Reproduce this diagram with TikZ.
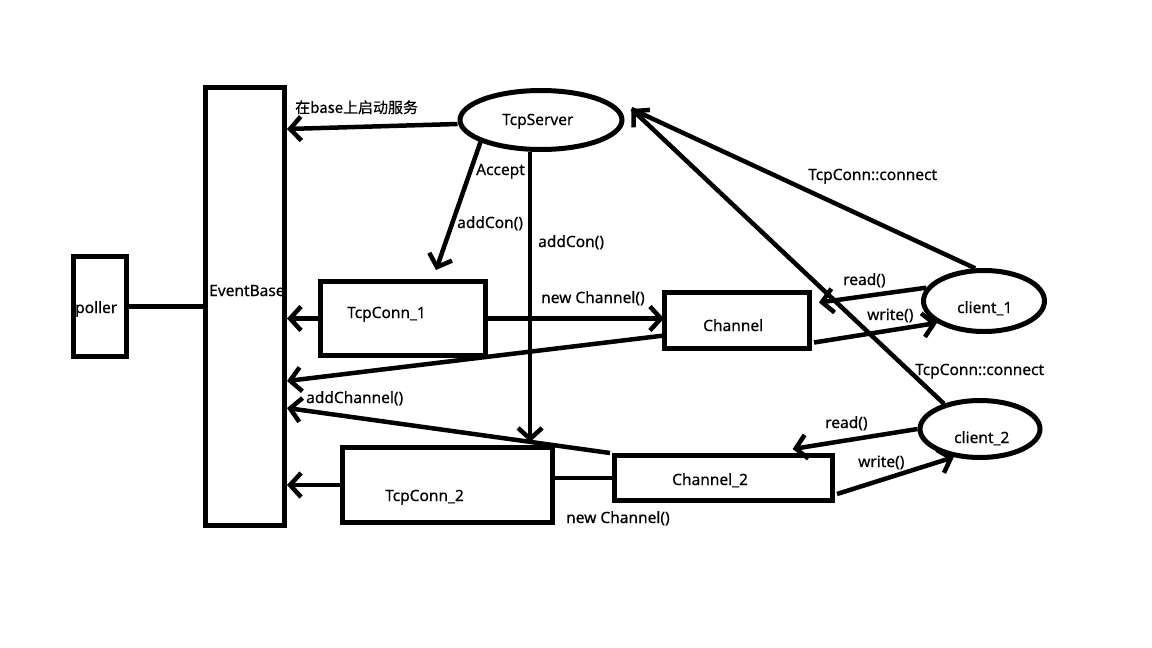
\documentclass[tikz,border=0pt]{standalone}
\usepackage{fontspec}
\setmainfont[FakeBold=0.5]{Noto Sans}
\newfontfamily\cjk[FakeBold=0.5]{Noto Sans CJK SC}
\usetikzlibrary{arrows.meta,shapes.geometric,calc}

\begin{document}
\begin{tikzpicture}[x=1pt,y=-1pt,
  box/.style={draw,line width=5pt,rectangle,inner sep=0pt},
  oval/.style={draw,line width=5pt,ellipse,inner sep=0pt},
  lbl/.style={anchor=base west,inner sep=0pt,font=\fontsize{15.5}{17}\selectfont},
  link/.style={line width=4.5pt},
  flow/.style={link,-{Straight Barb[length=11pt,width=24pt]}}]

\fill[white] (0,0) rectangle (1152,648);
\useasboundingbox (0,0) rectangle (1152,648);

% boxes and ovals
\node[box,minimum width=53pt,minimum height=100pt] (poller) at (100,306.5) {};
\node[box,minimum width=79pt,minimum height=438pt] (eb) at (245,306.5) {};
\node[box,minimum width=165pt,minimum height=74pt] (tc1) at (403,318.5) {};
\node[box,minimum width=210pt,minimum height=75pt] (tc2) at (447.5,485) {};
\node[box,minimum width=145pt,minimum height=56pt] (ch) at (737,320.5) {};
\node[box,minimum width=218pt,minimum height=45pt] (ch2) at (723.5,478) {};
\node[oval,minimum width=162pt,minimum height=59pt] (srv) at (541,120) {};
\node[oval,minimum width=121pt,minimum height=61pt] (c1) at (984,301) {};
\node[oval,minimum width=120pt,minimum height=57pt] (c2) at (980,429) {};

% texts inside the shapes (placed by baseline)
\node[lbl] (tpoller) at (75,313) {poller};
\node[lbl] (teb) at (209,296) {EventBase};
\node[lbl] (ttc1) at (347,318) {TcpConn\_1};
\node[lbl] (ttc2) at (385,501) {TcpConn\_2};
\node[lbl] (tch) at (703,331) {Channel};
\node[lbl] (tch2) at (672,485) {Channel\_2};
\node[lbl] (tsrv) at (502,125) {TcpServer};
\node[lbl] (tcli1) at (957,313) {client\_1};
\node[lbl] (tcli2) at (954,443) {client\_2};

% poller to EventBase
\draw[link] (poller.east) -- (poller.east -| eb.west);

% TcpServer starts the service on the base
\draw[flow] (srv.west |- 0,124) -- (eb.east |- 0,129);
\node[lbl,font=\cjk\fontsize{15}{17}\selectfont] (lstart) at (295,113) {在base上启动服务};

% TcpServer accepts and adds connections
\draw[flow] (srv.200) -- ([shift={(33,-9)}]tc1.north);
\node[lbl] (laccept) at (476,175) {Accept};
\node[lbl] (ladd1) at (457,228) {addCon()};
\draw[flow] (srv.251) -- ([shift={(0,-3)}]srv.251 |- tc2.north);
\node[lbl] (ladd2) at (538,247) {addCon()};

% connections to EventBase
\draw[flow] (tc1.west) -- (tc1.west -| eb.east);
\draw[flow] (tc2.west) -- (tc2.west -| eb.east);

% channels
\draw[flow] (tc1.east) -- ([xshift=2]tc1.east -| ch.west);
\node[lbl] (lnew1) at (541,303) {new Channel()};
\draw[link] (ch2.west -| tc2.east) -- (ch2.west);
\node[lbl] (lnew2) at (566,523) {new Channel()};

\draw[flow] ($(ch.west)!0.5!(ch.south west)$) -- (eb.east |- 0,381);
\draw[flow] ([xshift=-2]ch2.north west) -- (eb.east |- 0,408);
\node[lbl] (laddch) at (306,403) {addChannel()};

% clients and channels
\draw[flow] (c1.167) -- ([shift={(7,-18)}]ch.east);
\node[lbl] (lread1) at (843,285) {read()};
\draw[flow] ([shift={(2,22)}]ch.east) -- (c1.205);
\node[lbl] (lwrite1) at (867,320) {write()};

\draw[flow] (c2.180) -- ([shift={(0,-4)}]$(ch2.north)!0.62!(ch2.north east)$);
\node[lbl] (lread2) at (825,428) {read()};
\draw[flow] ([shift={(2,16)}]ch2.east) -- (c2.227);
\node[lbl] (lwrite2) at (858,467) {write()};

% clients connect to the server; both lines meet in one barb
\coordinate (srvtip) at ($(srv.east)+(7,-11)$);
\draw[link] (c1.105) -- (srvtip);
\node[lbl] (lconn1) at (808,180) {TcpConn::connect};
\draw[flow] (c2.145) -- (srvtip);
\node[lbl] (lconn2) at (915,375) {TcpConn::connect};

\end{tikzpicture}
\end{document}
